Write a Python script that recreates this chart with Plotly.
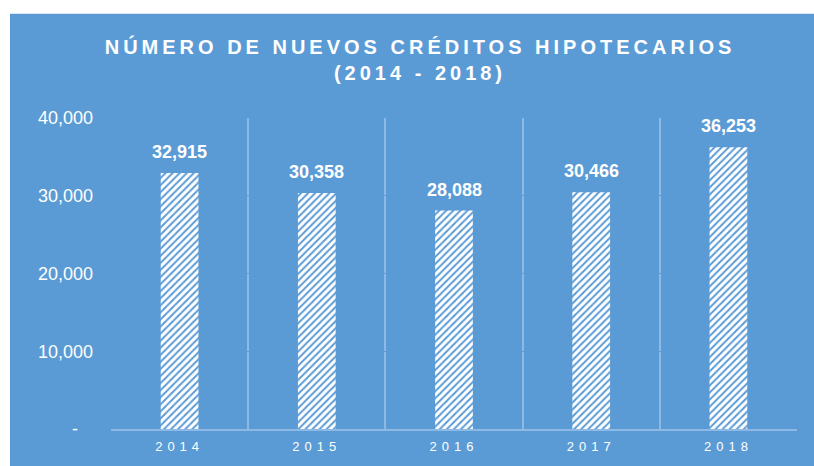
import plotly.graph_objects as go

years = ["2014", "2015", "2016", "2017", "2018"]
creditos = [32915, 30358, 28088, 30466, 36253]
y_ticks = [0, 10000, 20000, 30000, 40000]
y_ticklabels = ["-\u00a0\u00a0\u00a0", "10,000", "20,000", "30,000", "40,000"]

BLUE = "#5B9BD5"
GRID = "#8DB9E4"
FONT = "Liberation Sans, Arial, sans-serif"

W, H = 814, 466
ml, mr, mt, mb = 111, 17, 118, 35
pw, ph = W - ml - mr, H - mt - mb

fig = go.Figure()
fig.add_trace(go.Bar(
    x=years, y=creditos, width=0.275,
    marker=dict(color="rgba(0,0,0,0)", line=dict(width=0),
                pattern=dict(shape="/", fgcolor="white", bgcolor="rgba(0,0,0,0)",
                             size=5, solidity=0.6, fillmode="replace")),
    hoverinfo="skip",
))

for i, v in enumerate(creditos):
    fig.add_annotation(x=i, y=v, text=f"<b>{v:,}</b>", showarrow=False,
                       xref="x", yref="y",
                       yanchor="bottom", yshift=9,
                       font=dict(family=FONT, size=18, color="white"))

# white strips at top and left of the blue chart area
fig.add_shape(type="rect", xref="paper", yref="paper", layer="below",
              x0=(-20 - ml) / pw, x1=(W + 20 - ml) / pw,
              y0=(H - mb - 13) / ph, y1=(H + 20 - mb) / ph,
              fillcolor="white", line=dict(width=0))
fig.add_shape(type="rect", xref="paper", yref="paper", layer="below",
              x0=(-20 - ml) / pw, x1=(10 - ml) / pw,
              y0=-(mb + 20) / ph, y1=(H + 20 - mb) / ph,
              fillcolor="white", line=dict(width=0))

title_txt = ('<span style="letter-spacing:4px">NÚMERO DE NUEVOS CRÉDITOS HIPOTECARIOS</span><br>'
             '<span style="letter-spacing:4px">(2014 - 2018)</span>')
fig.update_layout(
    width=W, height=H,
    margin=dict(l=ml, r=mr, t=mt, b=mb),
    paper_bgcolor=BLUE, plot_bgcolor="rgba(0,0,0,0)",
    showlegend=False,
    title=dict(text=f"<b>{title_txt}</b>", x=420 / W, xanchor="center",
               y=1 - 54 / H, yanchor="top",
               font=dict(family=FONT, size=20, color="white")),
    xaxis=dict(type="category", tickson="boundaries", showgrid=True,
               gridcolor=GRID, gridwidth=2,
               showline=True, linecolor=GRID, linewidth=2,
               ticks="", tickvals=years,
               ticktext=[f'<span style="letter-spacing:5px">{y}</span>' for y in years],
               tickfont=dict(family=FONT, size=13, color="white"),
               ticklabelstandoff=4,
               range=[-0.5, 4.5], fixedrange=True),
    yaxis=dict(range=[0, 40000], tickvals=y_ticks, ticktext=y_ticklabels,
               showgrid=True, gridcolor=BLUE, gridwidth=1,
               zeroline=False, showline=False, ticks="",
               tickfont=dict(family=FONT, size=18, color="white"),
               ticklabelstandoff=17, fixedrange=True),
    bargap=0.7,
)

fig.write_html("out.html", config={"displayModeBar": False},
               post_script=("document.body.style.margin='0';"
                            "document.body.style.overflow='hidden';"
                            "document.documentElement.style.overflow='hidden';"
                            f"document.documentElement.style.background='{BLUE}';"
                            f"document.body.style.background='{BLUE}';"))
